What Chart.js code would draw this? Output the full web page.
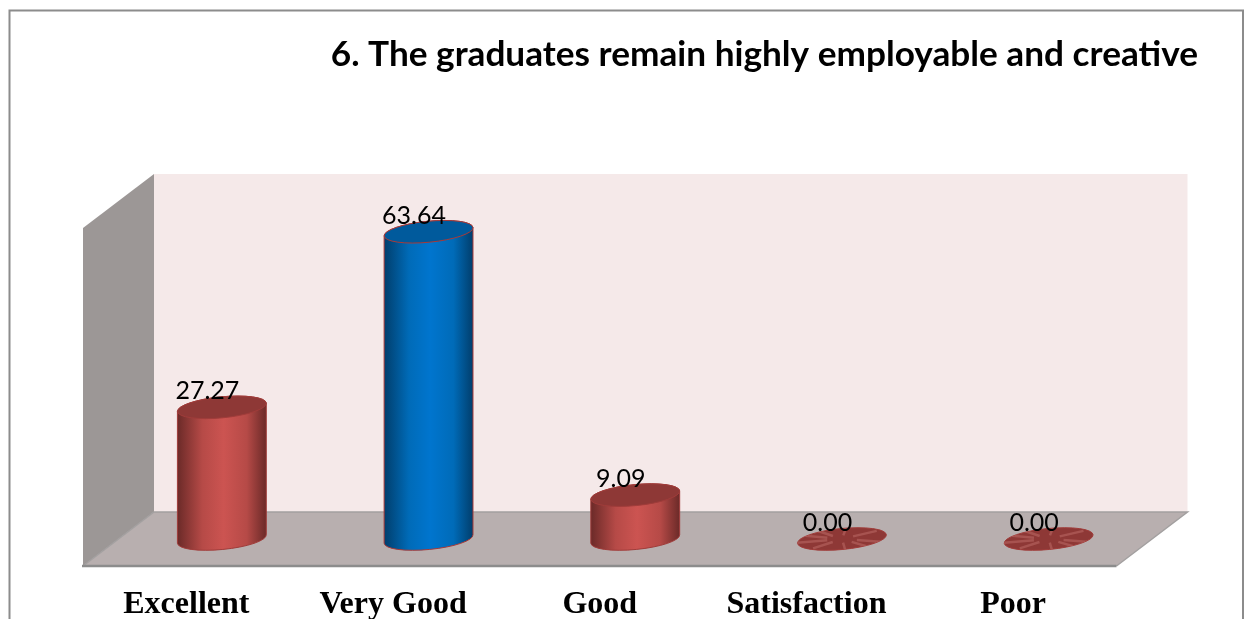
<!DOCTYPE html>
<html>
<head>
<meta charset="utf-8">
<title>Graduates chart</title>
<script src="https://cdn.jsdelivr.net/npm/chart.js@4/dist/chart.umd.min.js"></script>
<style>
  html, body { margin: 0; padding: 0; background: #fff; overflow: hidden; }
  canvas { display: block; }
</style>
</head>
<body>
<canvas id="chart-canvas" width="1252" height="619"></canvas>
<script>
'use strict';

/* DATA */
const chartTitle = '6. The graduates remain highly employable and creative';
const categories = ['Excellent', 'Very Good', 'Good', 'Satisfaction', 'Poor'];
const percentValues = [27.27, 63.64, 9.09, 0.00, 0.00];

/* STYLE */
const barColors = ['#C0504D', '#0070C0', '#C0504D', '#C0504D', '#C0504D'];
const shades = {
  '#C0504D': { edge: '#6B2A28', mid: '#B64A47', light: '#CC5451', top: '#8E3836', line: '#A03C3A' },
  '#0070C0': { edge: '#013E6C', mid: '#006BB8', light: '#0075CE', top: '#005A9C', line: '#A83A38' },
};
const depthX = 35.5;
const depthY = 27;
const tilt = -5.5 * Math.PI / 180;
const streakAngles = [0.3, 0.9, 1.5, 2.2, 2.8, 3.5, 4.1, 4.8, 5.5];

function drawWalls(chart) {
  const { ctx, chartArea: a } = chart;
  const bottom = a.bottom;
  ctx.save();

  // outer frame, its bottom edge is cut off by the page
  ctx.strokeStyle = '#8C8C8C';
  ctx.lineWidth = 2;
  ctx.beginPath();
  ctx.moveTo(9.5, 630);
  ctx.lineTo(9.5, 10.5);
  ctx.lineTo(1243, 10.5);
  ctx.lineTo(1243, 630);
  ctx.stroke();

  // back wall
  ctx.fillStyle = '#F5E9E9';
  ctx.fillRect(a.left + depthX, a.top - depthY, a.width, a.height);

  // side wall
  ctx.fillStyle = '#9C9796';
  ctx.beginPath();
  ctx.moveTo(a.left - depthX, a.top + depthY);
  ctx.lineTo(a.left + depthX, a.top - depthY);
  ctx.lineTo(a.left + depthX, bottom - depthY);
  ctx.lineTo(a.left - depthX, bottom + depthY);
  ctx.closePath();
  ctx.fill();

  // floor
  ctx.fillStyle = '#B8AFAF';
  ctx.beginPath();
  ctx.moveTo(a.left - depthX, bottom + depthY);
  ctx.lineTo(a.left + depthX, bottom - depthY);
  ctx.lineTo(a.right + depthX, bottom - depthY);
  ctx.lineTo(a.right - depthX, bottom + depthY);
  ctx.closePath();
  ctx.fill();

  // floor edges
  ctx.strokeStyle = '#A3A0A0';
  ctx.lineWidth = 1.5;
  ctx.beginPath();
  ctx.moveTo(a.left - depthX, bottom + depthY);
  ctx.lineTo(a.left + depthX, bottom - depthY);
  ctx.lineTo(a.right + depthX, bottom - depthY);
  ctx.lineTo(a.right - depthX, bottom + depthY);
  ctx.stroke();
  ctx.strokeStyle = '#8C8C8C';
  ctx.lineWidth = 2.5;
  ctx.beginPath();
  ctx.moveTo(a.left - depthX - 1, bottom + depthY);
  ctx.lineTo(a.right - depthX, bottom + depthY);
  ctx.stroke();
  ctx.restore();
}

function drawCylinder(ctx, bar, color) {
  const shade = shades[color];
  const rx = bar.width / 2 + 0.2;
  const ry = 10.5;
  const left = bar.x - bar.width / 2;
  const right = bar.x + bar.width / 2;
  const hasBody = bar.base - bar.y > 0.5;

  ctx.save();
  if (hasBody) {
    const grad = ctx.createLinearGradient(left, 0, right, 0);
    grad.addColorStop(0, shade.edge);
    grad.addColorStop(0.28, shade.mid);
    grad.addColorStop(0.52, shade.light);
    grad.addColorStop(0.78, shade.mid);
    grad.addColorStop(1, shade.edge);
    ctx.fillStyle = grad;
    ctx.strokeStyle = shade.line;
    ctx.lineWidth = 1;
    ctx.beginPath();
    ctx.ellipse(bar.x, bar.base, rx, ry, tilt, 0, Math.PI);
    ctx.ellipse(bar.x, bar.y, rx, ry, tilt, Math.PI, Math.PI * 2);
    ctx.closePath();
    ctx.fill();
    ctx.stroke();
  }

  // top cap
  ctx.fillStyle = shade.top;
  ctx.strokeStyle = shade.line;
  ctx.lineWidth = 1;
  ctx.beginPath();
  ctx.ellipse(bar.x, bar.y, rx, ry, tilt, 0, Math.PI * 2);
  ctx.fill();
  ctx.stroke();

  // a flat cylinder shows light streaks on its cap
  if (!hasBody) {
    ctx.clip();
    ctx.strokeStyle = 'rgba(205, 125, 120, 0.4)';
    ctx.lineWidth = 2.5;
    streakAngles.forEach(angle => {
      ctx.beginPath();
      ctx.moveTo(bar.x + Math.cos(angle) * 0.35 * rx, bar.y + Math.sin(angle) * 0.35 * ry);
      ctx.lineTo(bar.x + Math.cos(angle) * 1.1 * rx, bar.y + Math.sin(angle) * 1.1 * ry);
      ctx.stroke();
    });
  }
  ctx.restore();
}

const cylinderPlugin = {
  id: 'cylinders',
  beforeDraw(chart) {
    drawWalls(chart);
  },
  // the plain rectangles are replaced by cylinders at the same scale positions
  beforeDatasetDraw(chart, args) {
    const { ctx } = chart;
    args.meta.data.forEach((bar, i) => {
      drawCylinder(ctx, bar, barColors[i]);
    });
    return false;
  },
  afterDatasetsDraw(chart) {
    const { ctx } = chart;
    const meta = chart.getDatasetMeta(0);
    ctx.save();
    ctx.fillStyle = '#000';
    ctx.font = '25px Lato';
    ctx.textAlign = 'center';
    ctx.textBaseline = 'middle';
    meta.data.forEach((bar, i) => {
      ctx.fillText(percentValues[i].toFixed(2), bar.x - 14.5, bar.y - 16);
    });
    ctx.restore();
  },
};

new Chart(document.getElementById('chart-canvas').getContext('2d'), {
  type: 'bar',
  data: {
    labels: categories,
    datasets: [{
      data: percentValues,
      backgroundColor: barColors,
      barPercentage: 0.43,
      categoryPercentage: 1,
    }],
  },
  options: {
    responsive: false,
    animation: false,
    devicePixelRatio: 1,
    layout: { padding: { left: 0, right: 54, top: 0, bottom: 0 } },
    plugins: {
      legend: { display: false },
      tooltip: { enabled: false },
      title: {
        display: true,
        text: chartTitle,
        align: 'end',
        color: '#000',
        font: { family: 'Lato', size: 35.2, weight: 'bold', lineHeight: 1.2 },
        padding: { top: 34, bottom: 124.8 },
      },
    },
    scales: {
      x: {
        grid: { display: false, drawTicks: false },
        border: { display: false },
        afterFit(scale) { scale.height = 80; },
        ticks: {
          autoSkip: false,
          maxRotation: 0,
          padding: 47,
          labelOffset: -depthX,
          color: '#000',
          font: { family: 'Liberation Serif', size: 32, weight: 'bold' },
        },
      },
      y: {
        min: 0,
        max: 70,
        grid: { display: false },
        border: { display: false },
        ticks: { display: false },
        afterFit(scale) { scale.width = 118.5; },
      },
      spacer: {
        position: 'right',
        grid: { display: false },
        border: { display: false },
        ticks: { display: false },
        afterFit(scale) { scale.width = 46; },
      },
    },
  },
  plugins: [cylinderPlugin],
});
</script>
</body>
</html>
